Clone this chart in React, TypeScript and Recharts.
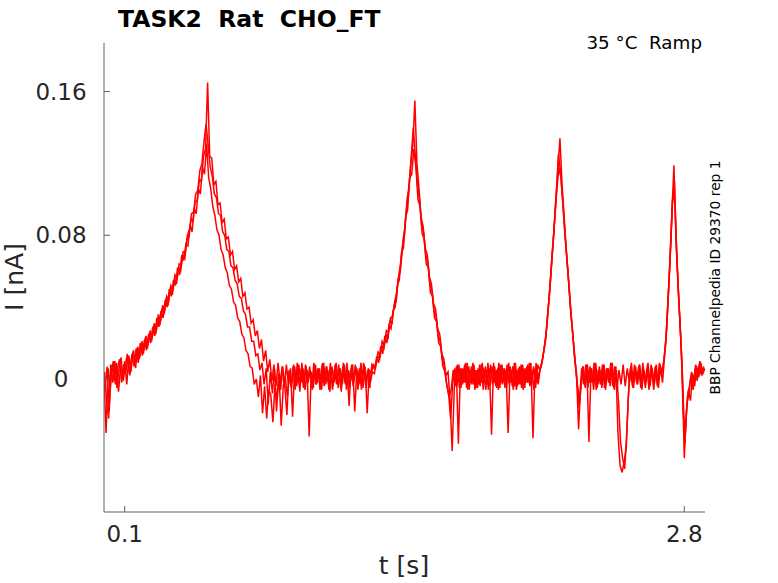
import React from 'react';
import { LineChart, Line, XAxis, YAxis } from 'recharts';

// sweep sampling (s)
const DT = 0.01;
const T0_REP_A = 0;
const T0_REP_B = 0.005;
const T0_REP_C = 0.0025;

// current, nA — repetition A
const repA = [
  0.002, -0.030, 0.006, -0.005, 0.008, -0.001, 0.009, -0.007, 0.007, 0.002,
  0.010, -0.003, 0.013, 0.004, 0.015, 0.008, 0.017, 0.011, 0.020, 0.014,
  0.023, 0.017, 0.026, 0.021, 0.030, 0.025, 0.034, 0.030, 0.039, 0.036,
  0.045, 0.042, 0.050, 0.047, 0.056, 0.053, 0.062, 0.060, 0.069, 0.067,
  0.078, 0.079, 0.089, 0.088, 0.099, 0.099, 0.111, 0.110, 0.124, 0.128,
  0.165, 0.124, 0.123, 0.108, 0.110, 0.097, 0.098, 0.087, 0.089, 0.078,
  0.079, 0.069, 0.071, 0.061, 0.063, 0.054, 0.056, 0.046, 0.048, 0.039,
  0.040, 0.031, 0.033, 0.024, 0.027, 0.017, 0.022, 0.010, 0.016, 0.004,
  0.011, -0.001, 0.008, -0.004, 0.009, -0.002, 0.007, -0.005, 0.008, -0.003,
  0.006, -0.021, 0.007, -0.004, 0.008, -0.002, 0.006, -0.006, 0.005, -0.032,
  0.004, -0.005, 0.008, -0.002, 0.006, -0.006, 0.009, -0.003, 0.005, -0.007,
  0.007, -0.002, 0.009, -0.005, 0.006, -0.003, 0.008, -0.006, 0.005, -0.001,
  0.008, -0.018, 0.006, -0.003, 0.009, -0.005, 0.007, -0.019, 0.005, 0.003,
  0.008, 0.006, 0.013, 0.011, 0.019, 0.016, 0.025, 0.022, 0.032, 0.031,
  0.041, 0.043, 0.056, 0.060, 0.073, 0.080, 0.095, 0.104, 0.119, 0.130,
  0.155, 0.120, 0.106, 0.090, 0.085, 0.073, 0.069, 0.057, 0.053, 0.042,
  0.039, 0.028, 0.025, 0.014, 0.011, 0.002, 0.004, -0.012, -0.040, -0.006,
  0.007, -0.036, 0.006, -0.003, 0.008, -0.005, 0.007, -0.002, 0.009, -0.006,
  0.005, -0.003, 0.008, -0.006, 0.007, -0.002, 0.006, -0.031, 0.009, -0.004,
  0.006, -0.005, 0.008, -0.002, 0.005, -0.030, 0.007, -0.004, 0.009, -0.006,
  0.006, -0.003, 0.008, -0.005, 0.007, -0.002, 0.009, -0.033, 0.006, -0.002,
  0.004, 0.007, 0.014, 0.021, 0.035, 0.048, 0.066, 0.081, 0.100, 0.116,
  0.134, 0.109, 0.091, 0.073, 0.058, 0.041, 0.028, 0.013, 0.003, -0.028,
  -0.003, 0.007, -0.004, 0.008, -0.035, 0.006, -0.002, 0.009, -0.005, 0.007,
  -0.003, 0.008, -0.006, 0.006, -0.002, 0.009, -0.005, 0.007, -0.030, -0.048,
  -0.052, -0.046, -0.038, -0.010, 0.006, -0.004, 0.008, -0.002, 0.007, -0.005,
  0.009, -0.003, 0.006, -0.006, 0.008, -0.002, 0.007, -0.004, 0.009, 0.002,
  0.009, 0.019, 0.040, 0.063, 0.091, 0.119, 0.078, 0.052, 0.030, 0.006,
  -0.044, -0.019, -0.006, -0.012, 0.003, -0.004, 0.007, 0.001, 0.009, 0.003,
  0.006,
];

// current, nA — repetition B
const repB = [
  -0.006, 0.007, -0.018, 0.004, 0.010, -0.003, 0.006, 0.011, -0.002, 0.008,
  0.004, 0.012, 0.002, 0.014, 0.007, 0.017, 0.009, 0.020, 0.013, 0.022,
  0.016, 0.025, 0.020, 0.029, 0.024, 0.034, 0.029, 0.038, 0.034, 0.044,
  0.040, 0.050, 0.046, 0.055, 0.052, 0.062, 0.058, 0.069, 0.066, 0.075,
  0.074, 0.086, 0.082, 0.095, 0.092, 0.106, 0.103, 0.118, 0.114, 0.131,
  0.112, 0.106, 0.096, 0.091, 0.083, 0.080, 0.072, 0.069, 0.062, 0.059,
  0.052, 0.050, 0.043, 0.041, 0.034, 0.032, 0.025, 0.023, 0.016, 0.014,
  0.007, 0.006, -0.003, 0.000, -0.010, 0.002, -0.019, -0.004, -0.022, -0.006,
  -0.009, -0.024, -0.003, -0.012, 0.002, -0.026, -0.004, 0.001, -0.010, 0.003,
  -0.005, 0.008, -0.003, 0.006, -0.007, 0.009, -0.004, 0.007, -0.002, 0.005,
  -0.006, 0.008, -0.003, 0.006, -0.005, 0.009, -0.002, 0.007, -0.006, 0.005,
  -0.004, 0.008, -0.002, 0.006, -0.007, 0.009, -0.003, 0.005, -0.005, 0.008,
  -0.002, 0.007, -0.006, 0.005, -0.003, 0.008, -0.005, 0.006, -0.002, 0.004,
  0.003, 0.012, 0.009, 0.018, 0.014, 0.024, 0.020, 0.030, 0.028, 0.038,
  0.040, 0.052, 0.055, 0.070, 0.073, 0.090, 0.094, 0.112, 0.114, 0.128,
  0.118, 0.100, 0.096, 0.081, 0.078, 0.064, 0.062, 0.048, 0.046, 0.034,
  0.032, 0.020, 0.018, 0.007, 0.004, -0.004, -0.010, -0.006, 0.005, -0.004,
  0.008, -0.005, 0.006, -0.002, 0.009, -0.006, 0.005, -0.003, 0.008, -0.005,
  0.006, -0.004, 0.009, -0.002, 0.005, -0.006, 0.008, -0.003, 0.007, -0.005,
  0.009, -0.002, 0.006, -0.005, 0.008, -0.003, 0.005, -0.006, 0.009, -0.004,
  0.007, -0.005, 0.006, -0.002, 0.008, -0.004, 0.005, -0.006, 0.009, -0.003,
  0.006, 0.010, 0.018, 0.027, 0.041, 0.056, 0.072, 0.089, 0.105, 0.118,
  0.112, 0.097, 0.080, 0.065, 0.050, 0.034, 0.021, 0.008, -0.004, -0.012,
  0.006, -0.003, 0.008, -0.005, 0.007, -0.002, 0.009, -0.006, 0.005, -0.003,
  0.008, -0.005, 0.006, -0.002, 0.009, -0.004, 0.007, -0.006, 0.005, -0.003,
  0.008, -0.004, 0.006, -0.002, 0.009, -0.005, 0.007, -0.003, 0.008, -0.006,
  0.005, -0.002, 0.009, -0.004, 0.006, -0.003, 0.008, -0.005, 0.007, -0.002,
  0.013, 0.028, 0.051, 0.076, 0.104, 0.098, 0.066, 0.041, 0.018, -0.020,
  -0.030, -0.010, -0.004, 0.004, -0.002, 0.008, 0.002, 0.010, 0.004, 0.007,
];

// current, nA — repetition C
const repC = [
  0.004, -0.012, -0.022, 0.008, -0.002, 0.010, -0.005, 0.006, 0.012, -0.001,
  0.007, 0.014, 0.003, 0.011, 0.016, 0.006, 0.018, 0.012, 0.021, 0.016,
  0.024, 0.019, 0.027, 0.023, 0.031, 0.027, 0.036, 0.032, 0.041, 0.038,
  0.046, 0.044, 0.052, 0.049, 0.058, 0.056, 0.064, 0.063, 0.071, 0.071,
  0.080, 0.083, 0.092, 0.093, 0.103, 0.105, 0.116, 0.120, 0.132, 0.142,
  0.130, 0.118, 0.113, 0.103, 0.101, 0.092, 0.091, 0.082, 0.080, 0.072,
  0.071, 0.063, 0.062, 0.055, 0.053, 0.046, 0.045, 0.038, 0.036, 0.029,
  0.029, 0.021, 0.021, 0.013, 0.014, 0.005, 0.009, -0.003, 0.006, -0.014,
  0.004, -0.008, 0.006, -0.018, 0.003, -0.006, 0.007, -0.004, -0.020, 0.005,
  -0.004, 0.007, -0.006, 0.009, -0.003, 0.006, -0.005, 0.008, -0.002, 0.007,
  -0.005, 0.009, -0.003, 0.006, -0.006, 0.008, -0.004, 0.007, -0.002, 0.009,
  -0.006, 0.005, -0.003, 0.008, -0.005, 0.007, -0.002, 0.009, -0.015, 0.006,
  -0.004, 0.008, -0.002, 0.006, -0.006, 0.009, -0.003, 0.005, -0.005, 0.008,
  0.006, 0.009, 0.015, 0.013, 0.021, 0.019, 0.027, 0.026, 0.034, 0.035,
  0.043, 0.048, 0.058, 0.065, 0.077, 0.085, 0.100, 0.108, 0.124, 0.140,
  0.124, 0.108, 0.100, 0.086, 0.081, 0.069, 0.065, 0.053, 0.049, 0.038,
  0.035, 0.024, 0.021, 0.011, 0.007, -0.002, -0.008, -0.022, -0.003, 0.006,
  -0.004, 0.008, -0.005, 0.006, -0.002, 0.009, -0.006, 0.007, -0.003, 0.005,
  -0.005, 0.008, -0.002, 0.006, -0.006, 0.009, -0.004, 0.007, -0.002, 0.005,
  -0.006, 0.008, -0.003, 0.006, -0.005, 0.009, -0.002, 0.007, -0.004, 0.005,
  -0.003, 0.008, -0.006, 0.006, -0.002, 0.009, -0.004, 0.007, -0.005, 0.008,
  0.005, 0.009, 0.016, 0.024, 0.038, 0.052, 0.069, 0.085, 0.103, 0.125,
  0.116, 0.100, 0.083, 0.068, 0.053, 0.037, 0.024, 0.010, -0.002, -0.016,
  -0.004, 0.007, -0.005, 0.008, -0.002, 0.006, -0.006, 0.009, -0.003, 0.005,
  -0.005, 0.008, -0.002, 0.006, -0.004, 0.009, -0.006, 0.005, -0.012, -0.035,
  -0.044, -0.050, -0.030, -0.004, 0.007, -0.005, 0.006, -0.003, 0.008, -0.004,
  0.006, -0.005, 0.008, -0.002, 0.007, -0.006, 0.005, -0.003, 0.008, 0.004,
  0.011, 0.024, 0.046, 0.070, 0.098, 0.110, 0.072, 0.046, 0.024, -0.002,
  -0.036, -0.014, -0.008, 0.002, -0.006, 0.006, -0.001, 0.008, 0.002, 0.006,
];

const xTicks = [0.1, 2.8];
const yTicks = [0, 0.08, 0.16];

const toRows = (vals: number[], t0: number) =>
  vals.map((v, i) => ({ t: +(t0 + i * DT).toFixed(4), v }));

const FONT = '"DejaVu Sans", sans-serif';
const TXT = '#262626';
const AXIS = '#606060';
const TRACE = '#ff0000';

const YTick = (props: any) => {
  const { x, y, payload } = props;
  return (
    <g>
      <line x1={x} x2={x + 6} y1={y} y2={y} stroke={AXIS} />
      <text x={x - 43} y={y + 8} textAnchor="middle" fontSize={23} fill={TXT} fontFamily={FONT}>
        {String(payload.value)}
      </text>
    </g>
  );
};

const XTick = (props: any) => {
  const { x, y, payload } = props;
  return (
    <g>
      <line x1={x} x2={x} y1={y - 6} y2={y} stroke={AXIS} />
      <text x={x} y={y + 30} textAnchor="middle" fontSize={23} fill={TXT} fontFamily={FONT}>
        {String(payload.value)}
      </text>
    </g>
  );
};

export default function App() {
  const reps = [toRows(repA, T0_REP_A), toRows(repB, T0_REP_B), toRows(repC, T0_REP_C)];
  return (
    <div style={{ position: 'absolute', left: 0, top: 0, width: 778, height: 583, background: '#fff' }}>
      <LineChart width={778} height={583} margin={{ top: 43, right: 73, bottom: 70, left: 103 }}>
        <XAxis
          type="number"
          dataKey="t"
          domain={[0, 2.9]}
          ticks={xTicks}
          allowDataOverflow
          height={1}
          tickSize={0}
          tickMargin={0}
          tickLine={false}
          tick={<XTick />}
          stroke={AXIS}
        />
        <YAxis
          type="number"
          dataKey="v"
          domain={[-0.074, 0.187]}
          ticks={yTicks}
          allowDataOverflow
          width={1}
          tickSize={0}
          tickMargin={0}
          tickLine={false}
          tick={<YTick />}
          stroke={AXIS}
        />
        {reps.map((rows, i) => (
          <Line
            key={i}
            data={rows}
            dataKey="v"
            type="linear"
            stroke={TRACE}
            strokeWidth={1.5}
            dot={false}
            isAnimationActive={false}
          />
        ))}
      </LineChart>
      <svg width={778} height={583} style={{ position: 'absolute', left: 0, top: 0, pointerEvents: 'none' }}>
        <text x={118} y={27} fontSize={23.5} fontWeight="bold" fill="#000" fontFamily={FONT} style={{ whiteSpace: 'pre' }}>
          {'TASK2  Rat  CHO_FT'}
        </text>
        <text x={702} y={49} fontSize={18.3} textAnchor="end" fill="#000" fontFamily={FONT} style={{ whiteSpace: 'pre' }}>
          {'35 °C  Ramp'}
        </text>
        <text x={404} y={574} fontSize={25} textAnchor="middle" fill={TXT} fontFamily={FONT}>
          t [s]
        </text>
        <text
          x={23}
          y={277}
          fontSize={25}
          textAnchor="middle"
          fill={TXT}
          fontFamily={FONT}
          transform="rotate(-90 23 277)"
        >
          I [nA]
        </text>
        <text
          x={720}
          y={277.5}
          fontSize={13.8}
          textAnchor="middle"
          fill="#000"
          fontFamily={FONT}
          transform="rotate(-90 720 277.5)"
        >
          BBP Channelpedia ID 29370 rep 1
        </text>
      </svg>
    </div>
  );
}
